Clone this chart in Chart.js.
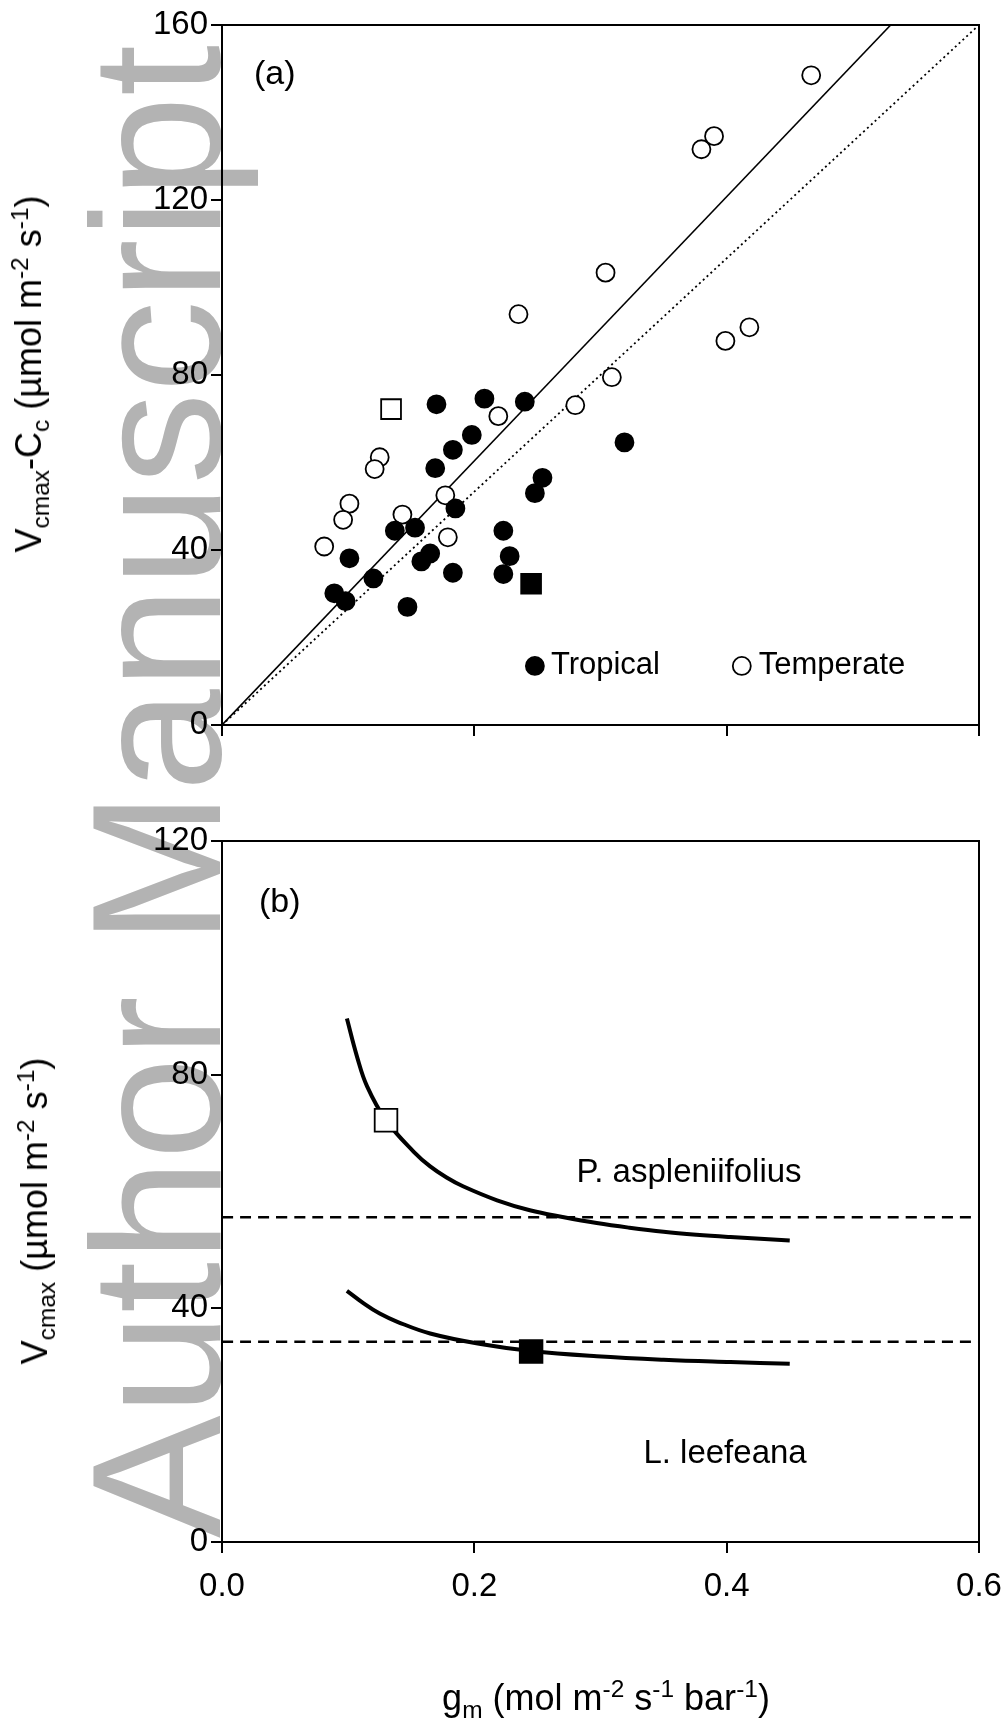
<!DOCTYPE html>
<html>
<head>
<meta charset="utf-8">
<title>Vcmax vs gm</title>
<script src="https://cdn.jsdelivr.net/npm/chart.js@4.4.1/dist/chart.umd.min.js"></script>
<style>
  body { margin: 0; background: #fff; }
  #page { position: relative; width: 1008px; height: 1719px; overflow: hidden;
          font-family: 'Liberation Sans', Arial, sans-serif; }
  canvas { position: absolute; left: 0; }
  .watermark { position: absolute; left: 64px; top: 1538px; transform-origin: 0 0;
               transform: rotate(-90deg); font-size: 184px; line-height: 1;
               color: #b3b3b3; white-space: nowrap; }
  .title { position: absolute; font-size: 36px; white-space: nowrap; color: #000; }
  .title sub, .title sup { font-size: 0.68em; line-height: 0; }
  .ytitle { transform: translate(-50%, -50%) rotate(-90deg); }
  .xtitle { transform: translate(-50%, -50%); }
</style>
</head>
<body>
<div id="page">
  <div class="watermark">Author Manuscript</div>
  <canvas id="panelA" width="1008" height="780" style="top:0"></canvas>
  <canvas id="panelB" width="1008" height="939" style="top:780px"></canvas>
  <div class="title ytitle" style="left:29px; top:374px">V<sub>cmax</sub>-C<sub>c</sub> (µmol m<sup>-2</sup> s<sup>-1</sup>)</div>
  <div class="title ytitle" style="left:35px; top:1211px">V<sub>cmax</sub> (µmol m<sup>-2</sup> s<sup>-1</sup>)</div>
  <div class="title xtitle" style="left:606px; top:1698px">g<sub>m</sub> (mol m<sup>-2</sup> s<sup>-1</sup> bar<sup>-1</sup>)</div>
</div>
<script>
// --- panel (a): Vcmax - Cc against gm ---
const tropicalGm = [0.170, 0.208, 0.240, 0.198, 0.183, 0.169, 0.319, 0.254, 0.248, 0.185, 0.153, 0.137,
                    0.223, 0.228, 0.165, 0.158, 0.101, 0.120, 0.183, 0.223, 0.089, 0.098, 0.147];
const tropicalV = [73.3, 74.6, 73.9, 66.3, 62.9, 58.7, 64.6, 56.5, 53.0, 49.5, 45.1, 44.4,
                   44.4, 38.6, 39.2, 37.4, 38.1, 33.5, 34.8, 34.5, 30.1, 28.3, 27.0];
const temperateGm = [0.467, 0.380, 0.390, 0.304, 0.235, 0.418, 0.399, 0.309, 0.280, 0.219, 0.125, 0.121,
                     0.177, 0.101, 0.096, 0.143, 0.179, 0.081];
const temperateV = [148.5, 131.6, 134.6, 103.4, 93.9, 90.9, 87.8, 79.5, 73.1, 70.6, 61.2, 58.5,
                    52.5, 50.6, 46.9, 48.1, 42.9, 40.8];
const aspSpotA = { gm: [0.134], v: [72.2] };   // P. aspleniifolius
const leeSpotA = { gm: [0.245], v: [32.3] };   // L. leefeana
const fitGm = [0, 0.530];
const fitV = [0, 160];
const oneToOneGm = [0, 0.6];
const oneToOneV = [0, 160];

// --- panel (b): Vcmax response curves ---
const aspGm = [0.099, 0.107, 0.115, 0.130, 0.152, 0.165, 0.178, 0.191, 0.218, 0.244, 0.271, 0.297, 0.323, 0.350, 0.376, 0.403, 0.450];
const aspV = [89.6, 83.1, 78.0, 72.2, 66.8, 64.3, 62.4, 60.9, 58.5, 56.8, 55.6, 54.6, 53.8, 53.1, 52.6, 52.2, 51.6];
const leeGm = [0.099, 0.112, 0.125, 0.139, 0.165, 0.205, 0.245, 0.297, 0.350, 0.403, 0.450];
const leeV = [43.0, 40.9, 39.1, 37.7, 35.7, 33.9, 32.7, 31.8, 31.2, 30.8, 30.5];
const aspSpotB = { gm: [0.130], v: [72.2] };
const leeSpotB = { gm: [0.245], v: [32.6] };
const refLevels = [55.6, 34.3];   // dashed horizontal levels
const refGm = [0, 0.6];

const gmTicks = [0, 0.2, 0.4, 0.6];
const FONT = "'Liberation Sans', Arial, sans-serif";

Chart.defaults.font.family = FONT;
Chart.defaults.color = '#000';

const pairs = (xs, ys) => xs.map((x, i) => ({ x: x, y: ys[i] }));

// closed box around the plotting area
const framePlugin = {
  id: 'frame',
  afterDatasetsDraw(chart) {
    const { ctx, chartArea: a } = chart;
    ctx.save();
    ctx.strokeStyle = '#000';
    ctx.lineWidth = 2;
    ctx.strokeRect(a.left, a.top, a.right - a.left, a.bottom - a.top);
    ctx.restore();
  }
};

// free text labels and the in-plot legend, placed in data units
const notesPlugin = {
  id: 'notes',
  afterDraw(chart, args, opts) {
    const { ctx, scales: { x, y } } = chart;
    ctx.save();
    ctx.textBaseline = 'middle';
    ctx.textAlign = 'left';
    (opts.items || []).forEach(n => {
      ctx.fillStyle = '#000';
      ctx.font = n.size + 'px ' + FONT;
      ctx.fillText(n.text, x.getPixelForValue(n.gm), y.getPixelForValue(n.v));
    });
    (opts.keys || []).forEach(k => {
      const ds = chart.data.datasets[k.dataset];
      const px = x.getPixelForValue(k.gm), py = y.getPixelForValue(k.v);
      ctx.fillStyle = ds.pointBackgroundColor;
      ctx.strokeStyle = ds.pointBorderColor;
      ctx.lineWidth = ds.pointBorderWidth;
      Chart.helpers.drawPoint(ctx, { pointStyle: ds.pointStyle, radius: ds.pointRadius,
        borderWidth: ds.pointBorderWidth, rotation: 0 }, px, py);
      ctx.fillStyle = '#000';
      ctx.font = k.size + 'px ' + FONT;
      ctx.fillText(ds.label, px + k.gap, py);
    });
    ctx.restore();
  }
};

function gmAxis(showLabels, height) {
  return {
    type: 'linear', min: 0, max: 0.6,
    afterBuildTicks: s => { s.ticks = gmTicks.map(v => ({ value: v })); },
    ticks: { display: showLabels, padding: 14, maxRotation: 0, font: { size: 33 },
             callback: v => v.toFixed(1) },
    grid: { drawOnChartArea: false, tickLength: 11, color: '#000', lineWidth: 2 },
    border: { color: '#000', width: 2 },
    // fixed axis band; the end labels may hang over the margins
    afterFit: s => { s.height = height; s.paddingLeft = 0; s.paddingRight = 0; }
  };
}

function vAxis(max) {
  return {
    type: 'linear', min: 0, max: max,
    ticks: { stepSize: 40, padding: 3, font: { size: 33 } },
    grid: { drawOnChartArea: false, tickLength: 11, color: '#000', lineWidth: 2 },
    border: { color: '#000', width: 2 },
    afterFit: s => { s.width = 222; }
  };
}

function spot(label, src, filled, radius, shape) {
  return {
    label: label, data: pairs(src.gm, src.v), pointStyle: shape, pointRadius: radius,
    pointBackgroundColor: filled ? '#000' : '#fff', pointBorderColor: '#000',
    pointBorderWidth: 1.8, order: 1
  };
}

function curve(label, xs, ys, width, dash) {
  return {
    label: label, data: pairs(xs, ys), showLine: true, pointRadius: 0,
    borderColor: '#000', borderWidth: width, borderDash: dash || [],
    tension: 0.4, order: 2
  };
}

new Chart(document.getElementById('panelA'), {
  type: 'scatter',
  data: {
    datasets: [
      spot('Tropical', { gm: tropicalGm, v: tropicalV }, true, 9, 'circle'),
      spot('Temperate', { gm: temperateGm, v: temperateV }, false, 9, 'circle'),
      spot('P. aspleniifolius', aspSpotA, false, 14, 'rect'),
      spot('L. leefeana', leeSpotA, true, 14, 'rect'),
      curve('fit', fitGm, fitV, 1.6),
      curve('1:1', oneToOneGm, oneToOneV, 1.8, [2, 3.2])
    ]
  },
  options: {
    responsive: false, animation: false, events: [],
    layout: { padding: { left: 0, right: 29, top: 25, bottom: 0 } },
    plugins: {
      legend: { display: false }, tooltip: { enabled: false },
      notes: {
        items: [{ text: '(a)', gm: 0.0254, v: 148.6, size: 34 }],
        keys: [
          { dataset: 0, gm: 0.248, v: 13.5, gap: 16, size: 31 },
          { dataset: 1, gm: 0.412, v: 13.5, gap: 17, size: 31 }
        ]
      }
    },
    scales: { x: gmAxis(false, 55), y: vAxis(160) }
  },
  plugins: [framePlugin, notesPlugin]
});

new Chart(document.getElementById('panelB'), {
  type: 'scatter',
  data: {
    datasets: [
      spot('P. aspleniifolius', aspSpotB, false, 16, 'rect'),
      spot('L. leefeana', leeSpotB, true, 16, 'rect'),
      curve('P. aspleniifolius curve', aspGm, aspV, 4),
      curve('L. leefeana curve', leeGm, leeV, 4),
      curve('upper level', refGm, [refLevels[0], refLevels[0]], 2.5, [11, 7]),
      curve('lower level', refGm, [refLevels[1], refLevels[1]], 2.5, [11, 7])
    ]
  },
  options: {
    responsive: false, animation: false, events: [],
    layout: { padding: { left: 0, right: 29, top: 61, bottom: 0 } },
    plugins: {
      legend: { display: false }, tooltip: { enabled: false },
      notes: {
        items: [
          { text: '(b)', gm: 0.0293, v: 109.5, size: 34 },
          { text: 'P. aspleniifolius', gm: 0.281, v: 63.2, size: 33 },
          { text: 'L. leefeana', gm: 0.334, v: 15.1, size: 33 }
        ]
      }
    },
    scales: { x: gmAxis(true, 177), y: vAxis(120) }
  },
  plugins: [framePlugin, notesPlugin]
});
</script>
</body>
</html>
